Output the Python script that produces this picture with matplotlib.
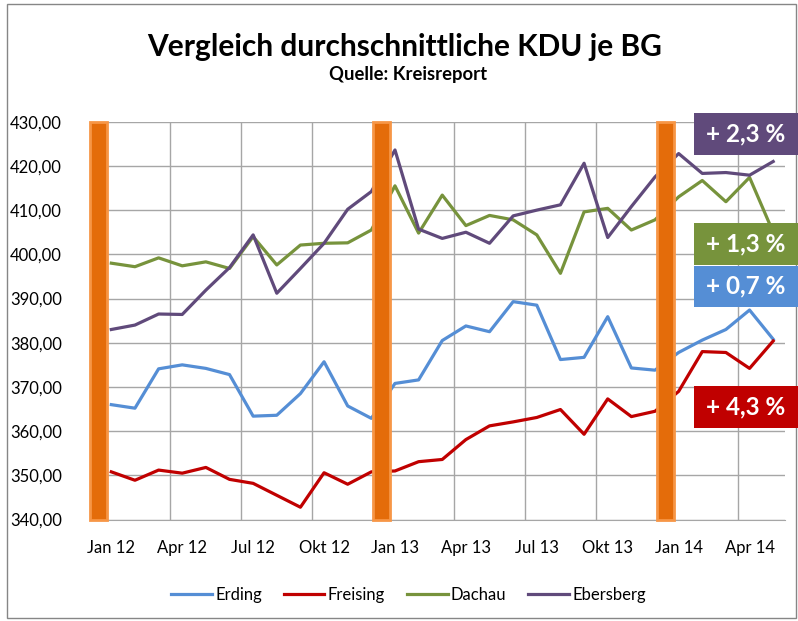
import matplotlib
matplotlib.use('Agg')
import matplotlib.pyplot as plt
import numpy as np
from matplotlib.patches import Rectangle
from matplotlib.ticker import FuncFormatter, FixedLocator
from matplotlib.transforms import blended_transform_factory

plt.rcParams['font.family'] = ['Lato', 'DejaVu Sans']

# monthly values Jan 2012 - May 2014
months = ['Jan 12', 'Feb 12', 'Mrz 12', 'Apr 12', 'Mai 12', 'Jun 12', 'Jul 12', 'Aug 12', 'Sep 12',
          'Okt 12', 'Nov 12', 'Dez 12', 'Jan 13', 'Feb 13', 'Mrz 13', 'Apr 13', 'Mai 13', 'Jun 13',
          'Jul 13', 'Aug 13', 'Sep 13', 'Okt 13', 'Nov 13', 'Dez 13', 'Jan 14', 'Feb 14', 'Mrz 14',
          'Apr 14', 'Mai 14']

erding = [366.0, 365.2, 374.1, 375.0, 374.2, 372.8, 363.4, 363.6, 368.5, 375.7, 365.7, 362.9,
          370.8, 371.6, 380.5, 383.8, 382.5, 389.3, 388.5, 376.2, 376.7, 385.9, 374.3, 373.8,
          377.8, 380.6, 383.0, 387.4, 380.8]
freising = [350.8, 348.9, 351.2, 350.5, 351.8, 349.1, 348.2, 345.5, 342.8, 350.6, 348.0, 350.8,
            351.0, 353.1, 353.6, 358.1, 361.2, 362.1, 363.1, 364.9, 359.3, 367.3, 363.3, 364.5,
            369.0, 378.0, 377.8, 374.2, 380.4]
dachau = [398.0, 397.2, 399.2, 397.4, 398.3, 396.8, 404.0, 397.6, 402.1, 402.5, 402.6, 405.5,
          415.5, 404.8, 413.4, 406.5, 408.8, 407.8, 404.4, 395.7, 409.6, 410.4, 405.5, 407.8,
          413.0, 416.7, 411.9, 417.4, 405.0]
ebersberg = [383.0, 384.0, 386.5, 386.4, 391.9, 397.0, 404.4, 391.2, 396.8, 402.5, 410.2, 414.2,
             423.6, 405.7, 403.6, 405.0, 402.5, 408.7, 410.0, 411.2, 420.6, 403.8, 410.8, 417.5,
             422.8, 418.3, 418.5, 417.9, 421.0]

names = ['Erding', 'Freising', 'Dachau', 'Ebersberg']
colors = ['#558ED5', '#C00000', '#77933C', '#604A7B']
changes = ['+ 0,7 %', '+ 4,3 %', '+ 1,3 %', '+ 2,3 %']

W, H = 798, 621
fig = plt.figure(figsize=(W / 100, H / 100), dpi=100)
ax = fig.add_axes([99.5 / W, 1 - 519.6 / H, (785 - 99.5) / W, (519.6 - 121.7) / H])

x = np.arange(len(months))
for vals, name, c in zip([erding, freising, dachau, ebersberg], names, colors):
    ax.plot(x, vals, color=c, lw=2.3, label=name, zorder=3, solid_joinstyle='round')

ax.set_xlim(-0.5, len(months) - 0.5)
ax.set_ylim(340, 430)
ax.set_yticks(np.arange(340, 431, 10))
ax.yaxis.set_major_formatter(FuncFormatter(lambda v, p: f'{v:.2f}'.replace('.', ',')))
ax.set_xticks(x[::3])
ax.set_xticklabels(months[::3])
ax.xaxis.set_minor_locator(FixedLocator(np.arange(-0.5, len(months) - 1, 3)))
ax.tick_params(axis='both', which='both', length=0, labelsize=12, colors='black')
ax.tick_params(axis='y', pad=27)
ax.tick_params(axis='x', pad=15)

ax.grid(axis='y', which='major', color='#A6A6A6', lw=1)
ax.grid(axis='x', which='minor', color='#A6A6A6', lw=1)
ax.grid(axis='x', which='major', visible=False)
ax.set_axisbelow(True)
for s in ['top', 'right', 'left']:
    ax.spines[s].set_visible(False)
ax.spines['bottom'].set_color('#A6A6A6')

# orange markers at each turn of the year
trans = blended_transform_factory(ax.transData, ax.transAxes)
for i, m in enumerate(months):
    if m.startswith('Jan'):
        ax.add_patch(Rectangle((i - 0.55 - 0.36, 0), 0.72, 1.0, transform=trans,
                               facecolor='#E46C0A', edgecolor='#F79646', lw=2,
                               clip_on=False, zorder=5))

# change boxes on the right
box_px = [(265.5, 306.5), (386, 428), (223, 264.5), (113, 155)]
for (top, bottom), txt, c in zip(box_px, changes, colors):
    fig.add_artist(Rectangle((694 / W, 1 - bottom / H), (W - 694) / W, (bottom - top) / H,
                             transform=fig.transFigure, facecolor=c, edgecolor='none', zorder=6))
    fig.text(746 / W, 1 - (top + bottom) / 2 / H, txt, color='white', fontsize=17.5,
             fontweight='bold', ha='center', va='center', zorder=7)

# outer chart frame
fig.add_artist(Rectangle((7 / W, 3 / H), (796 - 7) / W, (617 - 3) / H, transform=fig.transFigure,
                         fill=False, edgecolor='#868686', lw=1, zorder=1))

fig.text(404.5 / W, 1 - 56 / H, 'Vergleich durchschnittliche KDU je BG', fontsize=21.5,
         fontweight='bold', ha='center', va='baseline')
fig.text(408 / W, 1 - 80 / H, 'Quelle: Kreisreport', fontsize=13.3, fontweight='bold',
         ha='center', va='baseline')

fig.legend(loc='center', bbox_to_anchor=(408.5 / W, 1 - 595 / H), ncol=4, frameon=False,
           fontsize=12, handlelength=2.45, handletextpad=0.2, columnspacing=1.3)

fig.savefig('out.png', dpi=100)
